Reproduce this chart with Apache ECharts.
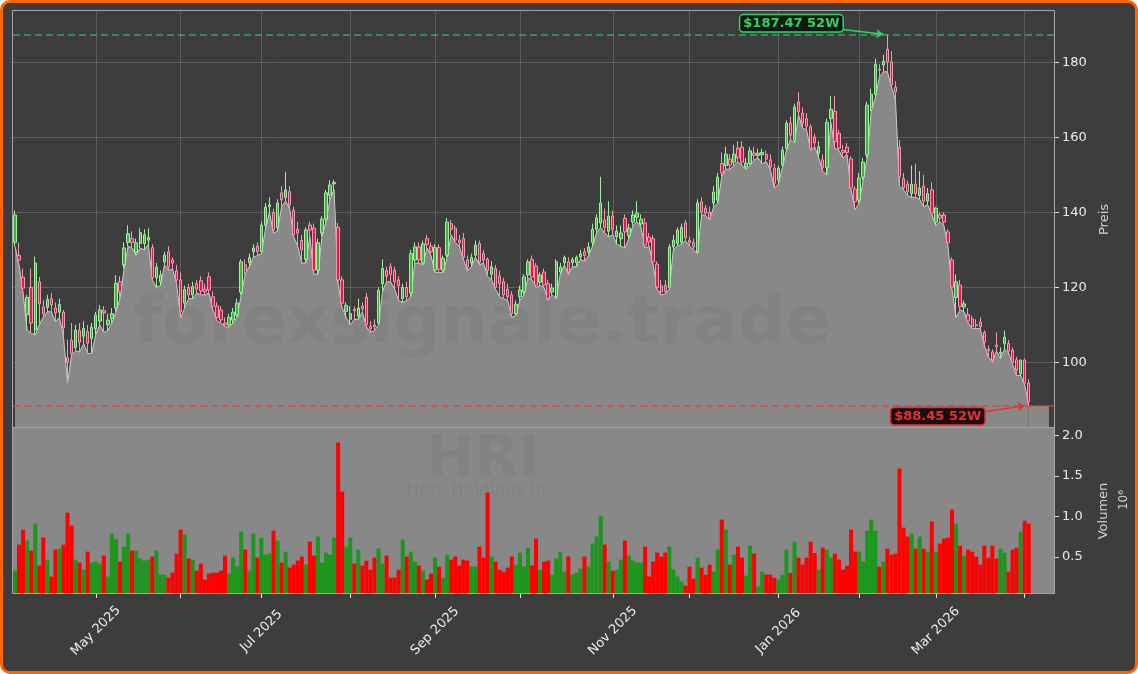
<!DOCTYPE html>
<html><head><meta charset="utf-8">
<script src="https://cdn.jsdelivr.net/npm/echarts@6/dist/echarts.min.js"></script>
<style>
html,body{margin:0;padding:0;background:#ffffff;}
#frame{position:absolute;left:0;top:0;width:1138px;height:674px;box-sizing:border-box;border:3px solid #ff6400;border-radius:10px;background:#3d3d3d;}
#chart{position:absolute;left:0;top:0;width:1138px;height:674px;}
</style></head><body>
<div id="frame"></div><div id="chart"></div>
<script>
// ---------- DATA ----------
const startDate = '2025-04-02';
const holidays = ['2025-04-18','2025-05-26','2025-06-19','2025-07-04','2025-09-01','2025-11-27','2025-12-25','2026-01-01','2026-01-19','2026-02-16','2026-04-03'];
const monthNames = ['Jan','Feb','Mar','Apr','May','Jun','Jul','Aug','Sep','Oct','Nov','Dec'];
const padDays = 6;
const priceTicks = [100,120,140,160,180];
const volumeTicks = [0.5,1.0,1.5,2.0];
const ticker = 'HRI';
const companyName = 'Herc Holdings Inc';
const watermark = 'forexsignale.trade';

const opens = [
132.0,128.5,122.7,112.7,120.0,108.7,121.5,114.7,114.7,117.0,
114.5,113.4,113.4,101.2,105.9,104.0,108.5,107.0,108.2,106.4,
109.0,111.0,113.8,110.0,111.7,114.5,121.5,126.0,132.0,133.0,
129.3,131.7,131.7,132.6,130.6,122.6,121.5,126.8,129.5,127.3,
124.4,122.0,115.8,120.0,118.0,121.0,121.8,119.5,122.8,117.5,
115.0,114.0,110.5,110.0,111.3,112.6,118.7,126.0,126.6,129.5,
131.0,129.5,136.6,141.5,140.0,136.0,145.2,144.0,145.5,140.6,
135.5,132.5,127.5,136.6,135.8,124.6,134.5,138.2,144.6,147.6,
136.0,122.0,113.6,111.5,114.2,112.4,115.0,117.4,109.7,110.0,
110.5,121.0,124.5,125.5,124.5,122.0,117.0,120.0,118.5,127.3,
130.8,126.5,133.0,131.0,124.6,130.6,124.6,128.6,137.0,135.8,
132.6,133.0,127.3,126.5,128.6,131.7,129.0,127.5,123.5,125.0,
123.0,121.5,119.5,118.0,113.0,117.5,118.8,123.3,127.5,125.7,
121.4,124.1,121.0,118.8,117.5,124.1,126.6,126.8,126.6,126.6,
128.1,129.5,129.5,132.0,135.5,137.2,138.0,135.0,139.0,133.5,
133.0,138.4,133.8,137.4,138.7,136.9,137.2,133.4,133.0,126.2,
120.4,120.6,120.0,130.8,131.7,132.0,137.2,132.6,132.0,129.5,
142.8,141.1,140.0,142.5,143.3,153.0,152.5,154.2,153.4,157.1,
157.4,152.1,153.1,155.8,155.2,155.4,155.5,154.0,151.8,148.6,
152.6,157.1,163.8,159.3,169.4,166.5,165.0,162.8,160.1,155.8,
154.0,152.0,165.0,166.9,161.1,156.5,157.4,154.3,146.2,143.3,
149.4,155.3,168.1,171.5,178.2,179.3,183.5,180.1,173.4,157.4,
149.0,147.5,145.0,147.5,144.5,147.0,143.0,146.0,137.4,139.3,
139.3,134.8,127.3,117.3,120.6,114.8,112.8,111.6,110.0,110.8,
108.0,103.5,102.8,104.6,102.3,105.0,105.0,103.3,100.7,97.0,
100.6,94.5];

const highs = [
140.5,132.0,125.0,118.0,125.0,128.2,122.8,116.6,118.0,118.5,
116.0,117.0,114.0,106.0,110.5,110.0,110.5,111.0,110.0,110.5,
113.5,115.3,115.0,113.0,114.5,123.3,123.0,132.0,136.6,135.0,
133.0,135.8,135.5,135.8,131.5,126.5,124.5,129.5,131.0,128.0,
126.0,124.0,120.5,121.0,121.5,122.0,123.0,121.0,124.0,119.0,
116.0,115.0,112.0,113.0,114.5,117.0,127.5,127.5,129.0,131.5,
132.0,137.5,142.5,144.0,141.0,143.5,147.0,150.8,147.0,141.5,
137.5,134.0,136.0,137.5,137.0,133.0,139.0,146.0,148.6,148.7,
137.2,123.0,116.0,115.0,115.0,117.0,116.0,118.5,111.0,111.5,
120.0,127.5,125.5,126.5,125.5,123.0,121.0,121.5,130.0,132.0,
132.0,132.5,134.0,132.0,131.5,131.5,128.5,138.5,138.0,136.5,
134.0,134.5,128.5,129.0,132.5,132.5,130.0,128.0,127.0,126.0,
124.5,122.5,121.0,119.0,116.5,120.5,123.5,127.5,128.5,126.5,
124.0,125.0,122.0,121.0,127.5,126.5,128.5,128.0,128.0,128.5,
130.0,130.5,132.0,137.0,139.5,149.5,141.0,143.0,140.5,136.5,
136.5,139.5,137.0,140.5,143.0,139.5,138.5,134.5,134.0,127.0,
122.0,122.0,131.5,134.0,136.0,137.0,138.0,133.5,133.0,143.5,
144.0,142.0,141.5,147.0,150.5,156.0,157.5,155.5,158.0,159.0,
159.0,154.5,157.5,157.5,157.0,157.0,156.5,155.5,153.0,152.5,
157.5,164.5,165.5,169.0,172.0,168.0,166.5,163.5,161.0,159.0,
155.5,165.0,171.0,171.0,162.0,158.0,158.5,155.0,147.0,150.5,
154.5,169.5,173.0,181.0,179.5,182.0,187.47,183.0,175.0,159.3,
150.5,148.5,152.5,153.0,151.0,150.0,146.5,148.0,141.5,140.0,
140.0,135.5,128.0,123.5,122.0,116.5,114.5,112.5,111.5,112.0,
108.5,104.5,103.5,108.0,104.0,108.5,106.0,104.0,101.5,100.8,
101.0,95.5];

const lows = [
131.0,126.0,118.5,108.6,107.8,107.3,110.0,112.0,113.5,113.5,
110.8,112.0,106.8,94.5,102.0,103.0,102.8,105.0,102.4,102.4,
107.5,110.0,108.0,108.5,110.5,113.5,117.0,125.0,131.0,130.5,
128.6,130.5,130.0,131.5,122.0,120.0,120.5,126.0,124.5,125.0,
121.0,111.9,114.5,117.0,117.0,118.5,118.0,118.0,118.5,114.0,
111.0,110.5,109.4,109.5,110.5,112.0,118.0,123.5,125.5,128.0,
128.5,129.0,135.5,140.0,134.5,135.0,141.5,143.0,141.0,133.5,
131.0,126.5,126.5,133.5,123.5,123.5,133.5,137.5,143.5,146.0,
121.0,114.5,112.0,110.0,111.5,111.5,113.5,109.5,108.0,108.5,
110.0,119.0,121.5,121.5,119.5,116.5,116.0,116.5,117.5,126.5,
126.5,126.0,130.5,128.5,124.0,124.0,124.0,128.0,134.0,132.0,
131.0,127.5,124.5,125.5,128.0,126.0,126.5,123.0,122.0,119.5,
117.5,117.0,116.5,112.0,112.5,116.5,118.0,122.5,122.0,120.0,
120.5,120.0,116.5,118.0,117.0,123.5,126.0,123.5,125.5,125.5,
127.5,127.0,128.5,131.0,134.5,136.0,134.5,133.5,134.0,131.5,
131.0,130.5,133.0,136.5,137.5,136.0,130.5,131.0,126.0,119.5,
118.0,118.3,119.5,130.0,131.0,131.5,132.5,131.0,130.0,129.0,
139.5,139.0,138.0,141.5,142.5,149.5,151.5,151.5,152.5,153.5,
152.5,151.5,152.5,154.0,154.5,153.0,153.5,151.5,146.5,147.5,
152.0,156.5,159.5,158.5,166.0,162.5,162.0,156.5,157.5,154.5,
151.0,150.0,164.0,157.0,156.5,154.5,155.5,146.0,140.7,142.5,
148.5,154.5,167.0,170.5,176.0,177.5,177.5,173.5,170.0,147.0,
146.0,144.5,144.0,144.0,143.5,141.5,142.0,139.5,136.5,137.5,
136.5,131.0,119.5,112.0,114.0,113.5,110.5,109.0,109.0,109.0,
104.5,101.5,100.0,103.0,101.0,103.5,102.5,99.5,96.5,96.5,
94.0,88.45];

const closes = [
139.3,127.3,119.8,117.3,110.5,126.5,115.6,112.9,116.8,115.3,
113.2,115.4,109.2,100.1,102.4,108.6,105.4,109.0,105.1,109.4,
112.6,114.0,113.2,111.3,113.0,121.1,118.8,130.5,134.3,132.0,
131.9,134.6,134.0,133.3,122.6,125.4,123.3,128.6,125.4,126.5,
122.0,113.5,119.4,118.0,120.2,119.5,119.0,118.8,119.3,115.0,
112.0,111.3,110.0,112.0,113.4,115.8,126.8,124.6,128.0,130.5,
129.5,136.6,141.4,142.0,135.3,142.5,143.3,146.0,142.0,134.0,
134.5,130.0,135.3,135.3,124.6,131.9,138.2,145.2,147.3,148.0,
122.0,115.8,115.2,113.0,113.8,114.5,114.3,110.0,108.9,109.5,
119.2,125.0,123.0,123.5,121.5,120.5,120.0,117.5,129.0,130.8,
127.3,131.6,131.4,129.5,130.6,124.8,127.8,137.4,135.5,132.6,
131.9,128.0,125.4,128.0,131.3,126.7,127.3,124.5,125.5,120.0,
121.0,118.0,117.5,113.0,115.5,119.3,122.8,126.8,122.7,120.6,
123.3,120.6,117.0,119.8,126.8,125.4,128.0,124.1,127.4,128.0,
128.9,128.5,130.8,135.5,138.5,142.5,136.0,139.0,135.5,135.0,
134.5,134.8,135.8,139.3,139.8,138.2,131.3,132.1,126.8,120.1,
118.8,118.9,130.8,132.6,135.3,136.0,133.2,131.9,130.8,142.5,
140.1,139.8,138.5,145.4,149.4,150.5,155.5,152.6,155.5,154.5,
153.4,153.1,156.4,155.2,155.8,156.0,154.2,152.1,147.8,151.8,
156.6,163.8,160.6,168.1,166.8,163.8,163.0,157.1,158.5,157.5,
152.0,164.0,167.5,158.9,157.1,156.0,156.0,146.5,142.8,149.2,
153.4,168.6,171.5,179.5,177.9,180.3,180.1,174.0,172.1,149.5,
146.5,145.5,147.5,145.0,146.5,143.0,145.0,139.8,141.1,138.5,
137.4,131.9,120.1,121.5,114.8,115.6,111.0,109.5,109.8,109.5,
105.4,103.2,100.6,104.2,102.7,106.7,103.0,100.0,98.0,100.6,
94.5,89.5];

const volumes = [
0.331,0.653,0.838,0.703,0.579,0.912,0.393,0.740,0.467,0.257,
0.591,0.604,0.653,1.048,0.887,0.467,0.430,0.343,0.566,0.430,
0.443,0.418,0.517,0.257,0.789,0.715,0.443,0.628,0.789,0.579,
0.579,0.480,0.455,0.467,0.505,0.579,0.281,0.281,0.244,0.306,
0.542,0.838,0.777,0.480,0.467,0.331,0.418,0.220,0.294,0.306,
0.306,0.331,0.517,0.294,0.492,0.381,0.814,0.591,0.331,0.789,
0.492,0.740,0.529,0.542,0.826,0.703,0.430,0.566,0.368,0.405,
0.455,0.505,0.405,0.690,0.517,0.752,0.430,0.554,0.529,0.740,
1.915,1.308,0.628,0.740,0.418,0.591,0.393,0.455,0.343,0.492,
0.604,0.418,0.517,0.244,0.244,0.343,0.715,0.505,0.566,0.443,
0.393,0.331,0.220,0.294,0.492,0.381,0.244,0.529,0.467,0.505,
0.393,0.467,0.455,0.381,0.381,0.628,0.492,1.296,0.505,0.443,
0.343,0.319,0.368,0.505,0.405,0.554,0.381,0.616,0.393,0.728,
0.343,0.443,0.455,0.281,0.480,0.566,0.319,0.505,0.281,0.306,
0.356,0.505,0.381,0.665,0.752,1.011,0.653,0.443,0.331,0.343,
0.467,0.703,0.517,0.455,0.430,0.430,0.628,0.257,0.443,0.554,
0.505,0.554,0.628,0.343,0.257,0.195,0.145,0.381,0.232,0.492,
0.368,0.281,0.405,0.319,0.591,0.962,0.838,0.405,0.529,0.628,
0.492,0.269,0.641,0.542,0.133,0.319,0.281,0.281,0.244,0.220,
0.281,0.590,0.302,0.689,0.491,0.405,0.491,0.689,0.549,0.343,
0.615,0.590,0.491,0.541,0.467,0.343,0.392,0.838,0.566,0.566,
0.442,0.825,0.962,0.825,0.380,0.442,0.603,0.528,0.541,1.593,
0.863,0.751,0.788,0.603,0.751,0.603,0.566,0.937,0.566,0.665,
0.726,0.739,1.085,0.912,0.640,0.516,0.590,0.566,0.504,0.405,
0.640,0.491,0.640,0.479,0.603,0.553,0.318,0.590,0.615,0.813,
0.949,0.912];

// ---------- DERIVED ----------
function tradingDates(start, count) {
  const out = [];
  const d = new Date(start + 'T00:00:00Z');
  while (out.length < count) {
    const s = d.toISOString().slice(0, 10);
    const wd = d.getUTCDay();
    if (wd !== 0 && wd !== 6 && holidays.indexOf(s) < 0) out.push(s);
    d.setUTCDate(d.getUTCDate() + 1);
  }
  return out;
}
const N = opens.length;
const dates = tradingDates(startDate, N + padDays);
const monthStart = new Set();
for (let i = 1; i < dates.length; i++) {
  if (dates[i].slice(0, 7) !== dates[i - 1].slice(0, 7)) monthStart.add(i);
}
function monthOf(i) { return parseInt(dates[i].slice(5, 7), 10) - 1; }
function isLabelled(i) { return monthStart.has(i) && monthOf(i) % 2 === 0; }

let maxHigh = -Infinity, maxIdx = 0, minLow = Infinity, minIdx = 0;
for (let i = 0; i < N; i++) {
  if (highs[i] > maxHigh) { maxHigh = highs[i]; maxIdx = i; }
  if (lows[i] < minLow) { minLow = lows[i]; minIdx = i; }
}

// ---------- LAYOUT / STYLE ----------
const L = 13, R = 1055, PT = 11, PB = 428, VB = 594, W = 1138;
const FONT = 'DejaVu Sans';
const UP = '#1c961c', DOWN = '#ff0000';
const HI_COL = '#33d06a', LO_COL = '#e33232';
const WM = 'rgba(60,60,60,0.08)';

const candleData = opens.map((o, i) => [o, closes[i], lows[i], highs[i]]);
const volData = volumes.map((v, i) => ({ value: v, itemStyle: { color: closes[i] >= opens[i] ? UP : DOWN } }));

const chart = echarts.init(document.getElementById('chart'), null, { renderer: 'canvas' });
const option = {
  backgroundColor: 'transparent',
  animation: false,
  textStyle: { fontFamily: FONT },
  grid: [
    { left: L, right: W - R, top: PT, height: PB - PT, show: false, outerBoundsMode: 'none', containLabel: false },
    { left: L, right: W - R, top: PB, height: VB - PB, show: true, backgroundColor: '#888888', borderWidth: 0, outerBoundsMode: 'none', containLabel: false }
  ],
  xAxis: [
    { type: 'category', gridIndex: 0, data: dates, boundaryGap: true,
      axisLine: { show: false }, axisTick: { show: false }, axisLabel: { show: false },
      splitLine: { show: true, alignWithLabel: true, interval: (i) => monthStart.has(i), lineStyle: { color: 'rgba(255,255,255,0.17)', width: 1 } } },
    { type: 'category', gridIndex: 1, data: dates, boundaryGap: true,
      axisLine: { show: false },
      axisTick: { show: true, alignWithLabel: true, interval: (i) => monthStart.has(i), length: 4, lineStyle: { color: '#e0e0e0' } },
      axisLabel: { show: true, interval: (i) => isLabelled(i), rotate: 45, align: 'center', verticalAlign: 'middle', margin: 37,
        color: '#ececec', fontSize: 13, fontFamily: FONT,
        formatter: (v) => monthNames[parseInt(v.slice(5, 7), 10) - 1] + ' ' + v.slice(0, 4) },
      splitLine: { show: false } }
  ],
  yAxis: [
    { type: 'value', gridIndex: 0, position: 'right', min: 82.5, max: 193.7, scale: true,
      axisLine: { show: false },
      axisTick: { show: true, length: 4, customValues: priceTicks, lineStyle: { color: '#e0e0e0' } },
      axisLabel: { color: '#ececec', fontSize: 13, margin: 7, customValues: priceTicks, fontFamily: FONT },
      splitLine: { show: true, lineStyle: { color: 'rgba(255,255,255,0.17)', width: 1 } },
      name: 'Preis', nameLocation: 'middle', nameRotate: 90, nameGap: 41,
      nameTextStyle: { color: '#d2d2d2', fontSize: 13, fontFamily: FONT } },
    { type: 'value', gridIndex: 1, position: 'right', min: 0.042, max: 2.095,
      axisLine: { show: false },
      axisTick: { show: true, length: 4, customValues: volumeTicks, lineStyle: { color: '#e0e0e0' } },
      axisLabel: { color: '#ececec', fontSize: 13, margin: 7, customValues: volumeTicks, fontFamily: FONT, formatter: (v) => v.toFixed(1) },
      splitLine: { show: false },
      name: '{a|Volumen}\n{b|10⁶}', nameLocation: 'middle', nameRotate: 90, nameGap: 35,
      nameTextStyle: { color: '#d2d2d2', fontSize: 13, fontFamily: FONT, lineHeight: 20,
        rich: { a: { color: '#d2d2d2', fontSize: 13, fontFamily: FONT }, b: { color: '#d2d2d2', fontSize: 12, fontFamily: FONT, padding: [0, 0, 0, 22] } } } }
  ],
  series: [
    { name: 'area', type: 'line', xAxisIndex: 0, yAxisIndex: 0, data: lows, z: 1, symbol: 'none', silent: true,
      lineStyle: { color: '#cdcdcd', width: 1 },
      areaStyle: { color: '#888888', opacity: 1, origin: 'start' },
      markArea: { silent: true, itemStyle: { color: '#888888', opacity: 1 },
        data: [[{ xAxis: N - 1, yAxis: 82.5 }, { xAxis: N - 1 + 5, yAxis: minLow }]] } },
    { name: 'candles', type: 'candlestick', xAxisIndex: 0, yAxisIndex: 0, data: candleData, z: 3, barWidth: '72%', silent: true,
      itemStyle: { color: '#45b045', color0: '#d8204f', borderColor: '#a3eea3', borderColor0: '#f59ab0', borderWidth: 1 },
      markLine: { silent: true, animation: false, symbol: 'none', label: { show: false },
        data: [
          { yAxis: maxHigh, lineStyle: { color: 'rgba(46,204,113,0.75)', width: 1.5, type: [7, 4] } },
          { yAxis: minLow, lineStyle: { color: 'rgba(235,60,60,0.85)', width: 1.5, type: [7, 4] } },
          [ { coord: [maxIdx - 11, maxHigh + 1.3], symbol: 'none', lineStyle: { color: HI_COL, width: 1.5, type: 'solid' } },
            { coord: [maxIdx - 1, maxHigh], symbol: 'arrow', symbolSize: 7 } ],
          [ { coord: [minIdx - 11, minLow - 1.6], symbol: 'none', lineStyle: { color: LO_COL, width: 1.5, type: 'solid' } },
            { coord: [minIdx - 1, minLow], symbol: 'arrow', symbolSize: 7 } ]
        ] },
      markPoint: { silent: true, symbol: 'rect', symbolSize: 1, itemStyle: { color: 'transparent' },
        data: [
          { coord: [maxIdx, maxHigh], label: { show: true, position: 'inside', offset: [-96, -11],
              formatter: '$' + maxHigh.toFixed(2) + ' 52W', color: HI_COL, fontWeight: 'bold', fontSize: 13, fontFamily: FONT,
              backgroundColor: '#0e1a12', borderColor: HI_COL, borderWidth: 1.5, borderRadius: 3, padding: [2, 3, 1, 3] } },
          { coord: [minIdx, minLow], label: { show: true, position: 'inside', offset: [-91, 10.5],
              formatter: '$' + minLow.toFixed(2) + ' 52W', color: LO_COL, fontWeight: 'bold', fontSize: 13, fontFamily: FONT,
              backgroundColor: '#1a0e0e', borderColor: LO_COL, borderWidth: 1.5, borderRadius: 3, padding: [2, 3, 1, 3] } }
        ] } },
    { name: 'volume', type: 'bar', xAxisIndex: 1, yAxisIndex: 1, data: volData, barCategoryGap: '0%', barWidth: '100%', z: 2, silent: true }
  ],
  graphic: [
    { type: 'rect', silent: true, z: 50, shape: { x: L - 0.5, y: PT - 0.5, width: R - L, height: PB - PT }, style: { fill: null, stroke: '#a6a6a6', lineWidth: 1 } },
    { type: 'rect', silent: true, z: 50, shape: { x: L - 0.5, y: PB - 0.5, width: R - L, height: VB - PB }, style: { fill: null, stroke: '#a6a6a6', lineWidth: 1 } },
    { type: 'text', silent: true, z: 2, x: 482, y: 326, style: { text: watermark, font: 'bold 67px "DejaVu Sans"', fill: WM, align: 'center', verticalAlign: 'middle', textAlign: 'center', textVerticalAlign: 'middle' } },
    { type: 'text', silent: true, z: 2, x: 483, y: 461, style: { text: ticker, font: 'bold 57px "DejaVu Sans"', fill: WM, align: 'center', verticalAlign: 'middle', textAlign: 'center', textVerticalAlign: 'middle' } },
    { type: 'text', silent: true, z: 2, x: 481, y: 491, style: { text: companyName, font: '17px "DejaVu Sans"', fill: WM, align: 'center', verticalAlign: 'middle', textAlign: 'center', textVerticalAlign: 'middle' } }
  ]
};
chart.setOption(option);
</script>
</body></html>
